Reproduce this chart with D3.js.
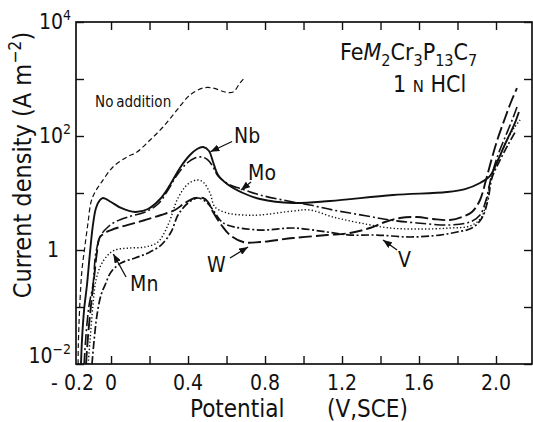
<!DOCTYPE html>
<meta charset="utf-8">
<script src="https://cdnjs.cloudflare.com/ajax/libs/d3/7.8.5/d3.min.js"></script>
<style>
  body { margin: 0; background: #fff; }
  text { font-family: "Liberation Sans Narrow", "DejaVu Sans Condensed", "DejaVu Sans", sans-serif; fill: #111; }
</style>
<div id="chart"></div>
<script>

// curves: potential (V, SCE) and current density (A m^-2)
var naPotential = [-0.171, -0.170, -0.161, -0.151, -0.135, -0.119, -0.104, -0.083, -0.052, 0.010, 0.083, 0.135, 0.203, 0.270, 0.343, 0.410, 0.478, 0.530, 0.592, 0.634, 0.670, 0.696];
var naCurrent   = [0.010, 0.0215, 0.133, 0.446, 1.22, 3.10, 6.95, 10.4, 15.0, 28.6, 42.8, 52.4, 85, 144, 286, 524, 695, 695, 592, 592, 851, 1084];

var nbPotential = [-0.156, -0.151, -0.140, -0.125, -0.109, -0.094, -0.078, -0.057, -0.042, 0.000, 0.052, 0.125, 0.192, 0.255, 0.306, 0.358, 0.410, 0.447, 0.478, 0.509, 0.530, 0.556, 0.603, 0.686, 0.774, 0.945, 1.138, 1.465, 1.745, 1.839, 1.917, 1.969, 2.010, 2.052, 2.094, 2.119];
var nbCurrent   = [0.010, 0.026, 0.089, 0.243, 0.922, 2.75, 5.46, 7.54, 8.17, 6.95, 5.46, 4.64, 5.24, 7.85, 13.8, 27.5, 46.4, 59.2, 64.1, 54.6, 35.0, 20.7, 14.4, 10.0, 7.85, 6.68, 7.24, 9.23, 10.4, 11.7, 15.0, 19.9, 37.9, 78.5, 156, 264];

var moPotential = [-0.140, -0.130, -0.114, -0.094, -0.078, -0.052, -0.016, 0.021, 0.088, 0.177, 0.244, 0.296, 0.343, 0.395, 0.436, 0.473, 0.504, 0.530, 0.556, 0.618, 0.681, 0.774, 0.945, 1.034, 1.153, 1.330, 1.449, 1.590, 1.761, 1.865, 1.917, 1.948, 1.974, 2.010, 2.052, 2.088, 2.109];
var moCurrent   = [0.010, 0.0323, 0.108, 0.243, 0.922, 1.83, 2.53, 3.10, 3.79, 4.64, 6.41, 11.3, 20.7, 33.6, 41.1, 42.8, 37.9, 28.6, 19.9, 13.8, 11.7, 9.23, 6.95, 6.15, 5.03, 3.95, 3.36, 2.98, 2.75, 3.10, 4.11, 7.54, 18.3, 46.4, 104, 207, 323];

var mnPotential = [-0.119, -0.109, -0.094, -0.078, -0.052, -0.016, 0.021, 0.088, 0.177, 0.244, 0.296, 0.348, 0.400, 0.447, 0.478, 0.514, 0.540, 0.603, 0.686, 0.774, 0.945, 1.034, 1.153, 1.294, 1.449, 1.605, 1.761, 1.865, 1.922, 1.953, 1.974, 2.016, 2.057, 2.094, 2.125];
var mnCurrent   = [0.010, 0.026, 0.108, 0.298, 0.545, 0.817, 1.00, 1.08, 1.13, 1.38, 2.75, 8.17, 14.4, 16.9, 15.6, 10.0, 5.68, 4.46, 4.11, 4.11, 4.83, 5.03, 3.79, 2.98, 2.43, 2.33, 2.43, 2.64, 3.64, 7.54, 18.3, 41.1, 85, 138, 191];

var wPotential = [-0.130, -0.119, -0.104, -0.088, -0.073, -0.057, 0.000, 0.088, 0.177, 0.260, 0.332, 0.384, 0.436, 0.478, 0.504, 0.530, 0.577, 0.618, 0.686, 0.774, 0.945, 1.122, 1.242, 1.345, 1.423, 1.501, 1.590, 1.673, 1.761, 1.823, 1.875, 1.917, 1.948, 1.979, 2.010, 2.047, 2.078, 2.109];
var wCurrent   = [0.010, 0.0323, 0.108, 0.323, 0.922, 1.69, 2.24, 2.75, 3.36, 4.11, 5.03, 6.68, 8.17, 8.17, 6.95, 4.64, 2.64, 1.83, 1.38, 1.38, 1.62, 1.83, 1.99, 2.43, 3.10, 3.64, 3.79, 3.50, 3.36, 3.79, 4.64, 7.54, 16.9, 41.1, 92, 207, 395, 695];

var vPotential = [-0.099, -0.088, -0.073, -0.052, -0.031, 0.000, 0.052, 0.125, 0.192, 0.260, 0.312, 0.348, 0.400, 0.452, 0.494, 0.530, 0.566, 0.603, 0.774, 0.945, 1.122, 1.242, 1.382, 1.553, 1.709, 1.797, 1.875, 1.927, 1.958, 1.979, 2.021, 2.062, 2.099];
var vCurrent   = [0.010, 0.026, 0.072, 0.163, 0.243, 0.411, 0.591, 0.724, 0.885, 1.22, 2.07, 4.11, 6.68, 8.17, 6.95, 5.03, 3.36, 2.75, 2.24, 2.43, 2.07, 1.83, 1.83, 1.69, 1.83, 2.07, 2.43, 3.64, 7.54, 18.3, 37.9, 69.5, 117];

// axis ticks and labels
var xTicks = [0, 0.2, 0.4, 0.6, 0.8, 1.0, 1.2, 1.4, 1.6, 1.8, 2.0];
var xLabelValues = [-0.2, 0, 0.4, 0.8, 1.2, 1.6, 2.0];
var xLabelText = ["- 0.2", "0", "0.4", "0.8", "1.2", "1.6", "2.0"];
var yTicks = [1e-2, 1e-1, 1, 1e1, 1e2, 1e3, 1e4];
var yLabelValues = [1e-2, 1, 1e2, 1e4];
var yLabelExp = ["−2", "", "2", "4"];

var margin = {top: 22, right: 1, bottom: 58, left: 76},
    width = 533 - margin.left - margin.right,
    height = 422 - margin.top - margin.bottom;

var svg = d3.select("#chart")
  .append("svg")
    .attr("width", width + margin.left + margin.right)
    .attr("height", height + margin.top + margin.bottom)
  .append("g")
    .attr("transform", "translate(" + margin.left + "," + margin.top + ")");

var x = d3.scaleLinear().domain([-0.182, 2.187]).range([0, width]);
var y = d3.scaleLog().domain([1e-2, 1e4]).range([height, 0]);

svg.append("clipPath").attr("id", "plot")
  .append("rect").attr("width", width).attr("height", height);

svg.append("defs").append("marker")
    .attr("id", "arrow")
    .attr("markerUnits", "userSpaceOnUse")
    .attr("markerWidth", 9).attr("markerHeight", 7)
    .attr("refX", 9).attr("refY", 3.5)
    .attr("orient", "auto")
  .append("path")
    .attr("d", "M0,0 L9,3.5 L0,7 Z")
    .attr("fill", "#111");

// ticks on all four sides, pointing inward
function tickStyle(g) {
  g.select(".domain").remove();
  g.selectAll(".tick line").attr("stroke", "#111").attr("stroke-width", 1.4);
}
svg.append("g").attr("transform", "translate(0," + height + ")")
  .call(d3.axisBottom(x).tickValues(xTicks).tickSize(-8).tickFormat("")).call(tickStyle);
svg.append("g")
  .call(d3.axisTop(x).tickValues(xTicks).tickSize(-8).tickFormat("")).call(tickStyle);
svg.append("g")
  .call(d3.axisLeft(y).tickValues(yTicks).tickSize(-8).tickFormat("")).call(tickStyle);
svg.append("g").attr("transform", "translate(" + width + ",0)")
  .call(d3.axisRight(y).tickValues(yTicks).tickSize(-8).tickFormat("")).call(tickStyle);

svg.append("rect")
    .attr("width", width).attr("height", height)
    .attr("fill", "none").attr("stroke", "#111").attr("stroke-width", 1.7);

// x tick labels
svg.selectAll(".xlab")
  .data(xLabelValues)
  .enter().append("text")
    .attr("x", function(d) { return x(d); })
    .attr("y", height + 26)
    .attr("text-anchor", "middle")
    .style("font-size", "21px")
    .text(function(d, i) { return xLabelText[i]; });

// y tick labels (powers of ten)
yLabelValues.forEach(function(v, i) {
  var t = svg.append("text")
      .attr("x", yLabelExp[i] === "" ? -17 : -5)
      .attr("y", y(v) + (v === 1e-2 ? -1 : 7))
      .attr("text-anchor", "end")
      .style("font-size", "21px");
  if (yLabelExp[i] === "") { t.text("1"); return; }
  t.append("tspan").text("10");
  t.append("tspan").attr("dy", -9).style("font-size", "14px").text(yLabelExp[i]);
});

// rich text: parts with sub/sup
function rich(sel, parts, size) {
  var shift = 0;
  parts.forEach(function(p) {
    var want = p.sub ? size * 0.28 : (p.sup ? -size * 0.42 : 0);
    var t = sel.append("tspan").text(p.t).attr("dy", want - shift);
    shift = want;
    if (p.sub || p.sup) t.style("font-size", (size * 0.7) + "px");
    if (p.it) t.style("font-style", "italic");
    if (p.sc) t.style("font-size", (size * 0.72) + "px");
  });
}

// axis titles
svg.append("text")
    .attr("x", 190 - margin.left)
    .attr("y", height + 53)
    .style("font-size", "24px")
    .text("Potential");
svg.append("text")
    .attr("x", 327 - margin.left)
    .attr("y", height + 53)
    .style("font-size", "24px")
    .text("(V,SCE)");
var yt = svg.append("text")
    .attr("text-anchor", "middle")
    .attr("transform", "translate(" + (31 - margin.left) + "," + (165 - margin.top) + ") rotate(-90)")
    .style("font-size", "25px");
rich(yt, [{t: "Current density (A m"}, {t: "−2", sup: true}, {t: ")"}], 25);

// curves
var series = [
  {p: naPotential, c: naCurrent, dash: "5,3", w: 1.2},
  {p: nbPotential, c: nbCurrent, dash: null, w: 1.9},
  {p: moPotential, c: moCurrent, dash: "11,3,2,3", w: 1.6},
  {p: mnPotential, c: mnCurrent, dash: "1.3,2.2", w: 1.4},
  {p: wPotential,  c: wCurrent,  dash: "13,4", w: 1.9},
  {p: vPotential,  c: vCurrent,  dash: "8,2.5,2,2.5", w: 1.7}
];

var line = d3.line()
  .curve(d3.curveCatmullRom.alpha(0.5))
  .x(function(d) { return x(d[0]); })
  .y(function(d) { return y(d[1]); });

svg.append("g").attr("clip-path", "url(#plot)")
  .selectAll("path")
  .data(series)
  .enter().append("path")
    .attr("fill", "none")
    .attr("stroke", "#111")
    .attr("stroke-width", function(d) { return d.w; })
    .attr("stroke-dasharray", function(d) { return d.dash; })
    .attr("d", function(d) { return line(d.p.map(function(v, i) { return [v, d.c[i]]; })); });

// alloy labels with arrows (positions in data units)
var notes = [
  {t: "Nb", tx: 0.639, ty: 75,   from: [0.629, 80],   to: [0.516, 53]},
  {t: "Mo", tx: 0.712, ty: 16.9, from: [0.727, 15.6], to: [0.675, 11.3]},
  {t: "Mn", tx: 0.099, ty: 0.191, from: [0.078, 0.336], to: [0.012, 0.85]},
  {t: "W",  tx: 0.499, ty: 0.411, from: [0.618, 0.724], to: [0.712, 1.13]},
  {t: "V",  tx: 1.491, ty: 0.504, from: [1.486, 1.0],  to: [1.413, 1.5]}
];
notes.forEach(function(n) {
  svg.append("text")
      .attr("x", x(n.tx)).attr("y", y(n.ty))
      .style("font-size", "21px")
      .text(n.t);
  svg.append("line")
      .attr("x1", x(n.from[0])).attr("y1", y(n.from[1]))
      .attr("x2", x(n.to[0])).attr("y2", y(n.to[1]))
      .attr("stroke", "#111").attr("stroke-width", 1.3)
      .attr("marker-end", "url(#arrow)");
});

svg.append("text")
    .attr("x", x(-0.083)).attr("y", y(323))
    .style("font-size", "15px")
    .style("word-spacing", "-1.5px")
    .text("No addition");

// alloy and solution
var title = svg.append("text")
    .attr("x", 340 - margin.left).attr("y", 60 - margin.top)
    .style("font-size", "23px");
rich(title, [{t: "Fe"}, {t: "M", it: true}, {t: "2", sub: true}, {t: "Cr"}, {t: "3", sub: true},
             {t: "P"}, {t: "13", sub: true}, {t: "C"}, {t: "7", sub: true}], 23);
var sol = svg.append("text")
    .attr("x", 393 - margin.left).attr("y", 92 - margin.top)
    .style("font-size", "23px");
rich(sol, [{t: "1 "}, {t: "N", sc: true}, {t: " HCl"}], 23);

</script>
